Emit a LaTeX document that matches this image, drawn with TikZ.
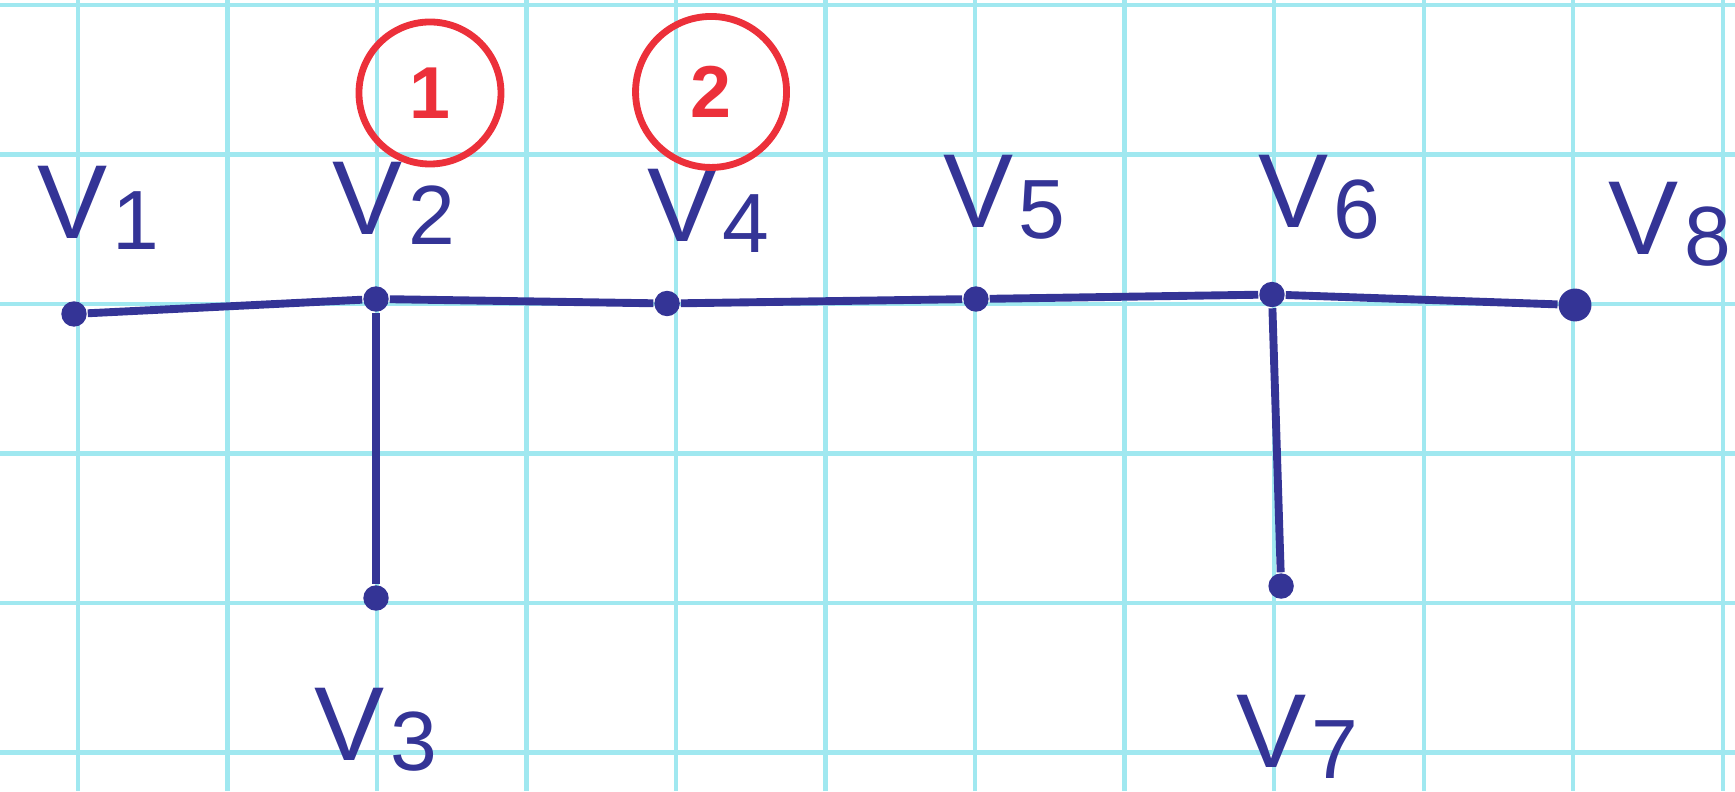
\documentclass[tikz,border=0pt]{standalone}
\usepackage{fontspec}
\setmainfont{Liberation Sans}
\usepackage{xcolor}
\usetikzlibrary{positioning}

\definecolor{ink}{RGB}{52,52,150}
\definecolor{redink}{RGB}{236,48,58}
\definecolor{gridcyan}{RGB}{160,232,240}

% vertex label: V with a lowered digit
\newcommand{\vname}[1]{V\kern1pt\raisebox{-0.1em}{\fontsize{16}{16}\selectfont #1}}

\begin{document}
\begin{tikzpicture}[
  gridline/.style={draw=gridcyan, line width=0.8pt},
  vtx/.style={circle, fill=ink, inner sep=0pt, minimum size=1.7mm},
  bigvtx/.style={vtx, minimum size=2.2mm},
  edge/.style={draw=ink, line width=1.5pt},
  vlab/.style={text=ink, font=\fontsize{20}{24}\selectfont, inner sep=0pt},
  ordmark/.style={circle, draw=redink, line width=1.3pt, text=redink,
                  font=\bfseries\fontsize{14}{16}\selectfont, inner sep=0pt},
]
\useasboundingbox (0,0) rectangle (11.605,-5.291);

% squared paper
\foreach \x in {0,...,11}
  \draw[gridline] (0.522+\x,0) -- (0.522+\x,-5.291);
\foreach \y in {0,...,5}
  \draw[gridline] (0,-0.033-\y) -- (11.605,-0.033-\y);

% vertices
\node[vtx] (v1) at (0.495,-2.10) {};
\node[vtx] (v2) at (2.515,-2.00) {};
\node[vtx] (v4) at (4.462,-2.03) {};
\node[vtx] (v5) at (6.528,-2.00) {};
\node[vtx] (v6) at (8.508,-1.97) {};
\node[bigvtx] (v8) at (10.535,-2.04) {};
\node[vtx] (v3) at (2.515,-4.00) {};
\node[vtx] (v7) at (8.569,-3.92) {};

% edges
\draw[edge] (v1) -- (v2) -- (v4) -- (v5) -- (v6) -- (v8);
\draw[edge] (v2) -- (v3);
\draw[edge] (v6) -- (v7);

% labels
\node[vlab] (l1) at (0.66,-1.39) {\vname{1}};
\node[vlab] (l2) at (2.635,-1.36) {\vname{2}};
\node[vlab] (l4) at (4.736,-1.41) {\vname{4}};
\node[vlab] (l5) at (6.716,-1.32) {\vname{5}};
\node[vlab] (l6) at (8.823,-1.32) {\vname{6}};
\node[vlab] (l8) at (11.17,-1.50) {\vname{8}};
\node[vlab] (l3) at (2.515,-4.88) {\vname{3}};
\node[vlab] (l7) at (8.676,-4.93) {\vname{7}};

% order marks
\node[ordmark, minimum size=9.5mm] (m1) at (2.876,-0.622) {1};
\node[ordmark, minimum size=10.1mm] (m2) at (4.756,-0.615) {2};
\end{tikzpicture}
\end{document}
